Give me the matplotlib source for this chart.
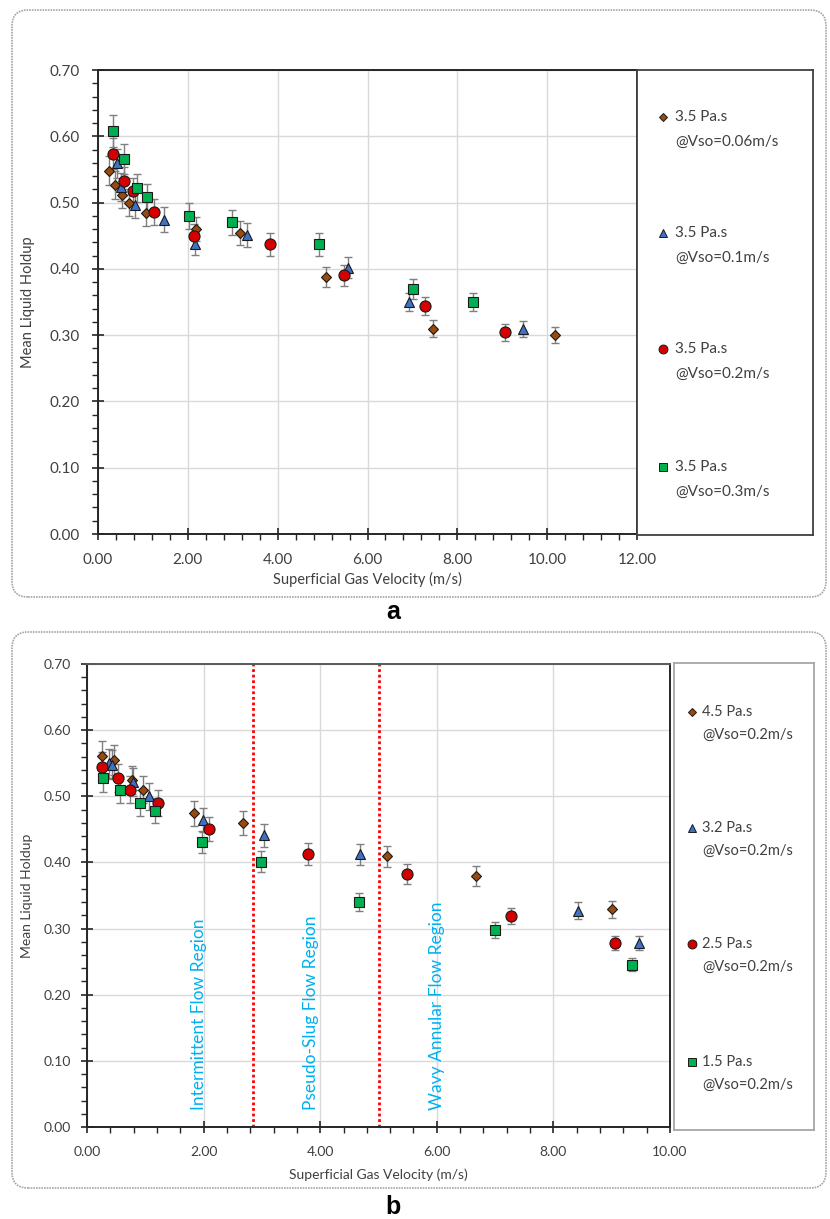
import matplotlib
matplotlib.use("Agg")
import matplotlib.pyplot as plt
from matplotlib.patches import FancyBboxPatch
from matplotlib.ticker import MultipleLocator, FormatStrFormatter

plt.rcParams['font.family'] = ['Lato', 'DejaVu Sans']

# Panel a: 3.5 Pa.s at different oil velocities
a_x_006 = [0.24, 0.38, 0.53, 0.69, 1.07, 2.19, 3.17, 5.08, 7.45, 10.18]
a_y_006 = [0.548, 0.527, 0.512, 0.500, 0.484, 0.460, 0.454, 0.388, 0.310, 0.300]
a_x_01 = [0.42, 0.51, 0.83, 1.46, 2.16, 3.32, 5.56, 6.93, 9.47]
a_y_01 = [0.559, 0.523, 0.497, 0.474, 0.438, 0.451, 0.402, 0.350, 0.309]
a_x_02 = [0.33, 0.57, 0.77, 1.25, 2.13, 3.82, 5.47, 7.28, 9.06]
a_y_02 = [0.574, 0.532, 0.517, 0.486, 0.449, 0.437, 0.390, 0.344, 0.304]
a_x_03 = [0.33, 0.57, 0.86, 1.08, 2.02, 2.98, 4.92, 7.01, 8.34]
a_y_03 = [0.608, 0.566, 0.522, 0.508, 0.480, 0.470, 0.437, 0.370, 0.350]
a_labels = [("3.5 Pa.s", "@Vso=0.06m/s"), ("3.5 Pa.s", "@Vso=0.1m/s"),
            ("3.5 Pa.s", "@Vso=0.2m/s"), ("3.5 Pa.s", "@Vso=0.3m/s")]

# Panel b: different viscosities at Vso=0.2m/s
b_x_45 = [0.26, 0.47, 0.78, 0.96, 1.83, 2.68, 5.15, 6.67, 9.01]
b_y_45 = [0.561, 0.555, 0.525, 0.510, 0.474, 0.460, 0.409, 0.379, 0.329]
b_x_32 = [0.37, 0.43, 0.79, 1.07, 1.99, 3.03, 4.69, 8.43, 9.46]
b_y_32 = [0.550, 0.548, 0.522, 0.500, 0.464, 0.441, 0.412, 0.327, 0.278]
b_x_25 = [0.26, 0.53, 0.74, 1.21, 2.10, 3.79, 5.49, 7.27, 9.05]
b_y_25 = [0.545, 0.528, 0.510, 0.490, 0.450, 0.413, 0.383, 0.319, 0.278]
b_x_15 = [0.27, 0.57, 0.91, 1.17, 1.98, 2.98, 4.67, 6.99, 9.35]
b_y_15 = [0.528, 0.510, 0.490, 0.478, 0.431, 0.401, 0.340, 0.298, 0.245]
b_labels = [("4.5 Pa.s", "@Vso=0.2m/s"), ("3.2 Pa.s", "@Vso=0.2m/s"),
            ("2.5 Pa.s", "@Vso=0.2m/s"), ("1.5 Pa.s", "@Vso=0.2m/s")]

# flow regime boundaries and labels
boundaries = [2.85, 5.0]
regions = ["Intermittent Flow Region", "Pseudo-Slug Flow Region", "Wavy Annular Flow Region"]
region_x = [1.92, 3.84, 6.0]

err_pct = 0.04  # percentage error bars

styles = [
    dict(marker='D', color='#9a4a0c', ms=5.5),
    dict(marker='^', color='#3f72c4', ms=7),
    dict(marker='o', color='#d40000', ms=8),
    dict(marker='s', color='#00b050', ms=7),
]

W, H = 830, 1219
fig = plt.figure(figsize=(W / 100, H / 100), dpi=100)


def ax_px(l, t, r, b):
    return fig.add_axes([l / W, 1 - b / H, (r - l) / W, (b - t) / H])


def frame_px(l, t, r, b):
    p = FancyBboxPatch((l / 100, (H - b) / 100), (r - l) / 100, (b - t) / 100,
                       boxstyle="round,pad=0,rounding_size=0.16",
                       transform=fig.dpi_scale_trans, fc='none',
                       ec='#a6a6a6', lw=1.2, ls=(0, (1, 0.6)))
    fig.add_artist(p)


def style_axes(ax, xmax, tick_fs, pad_x, pad_y):
    ax.set_xlim(0, xmax)
    ax.set_ylim(0, 0.7)
    ax.xaxis.set_major_locator(MultipleLocator(2))
    ax.xaxis.set_minor_locator(MultipleLocator(0.4))
    ax.yaxis.set_major_locator(MultipleLocator(0.1))
    ax.yaxis.set_minor_locator(MultipleLocator(0.02))
    ax.xaxis.set_major_formatter(FormatStrFormatter('%.2f'))
    ax.yaxis.set_major_formatter(FormatStrFormatter('%.2f'))
    ax.grid(True, which='major', color='#d9d9d9', lw=1)
    ax.set_axisbelow(True)
    ax.tick_params(which='major', direction='inout', length=9, width=1.2,
                   labelsize=tick_fs, labelcolor='#404040', color='#262626')
    ax.tick_params(axis='x', which='major', pad=pad_x)
    ax.tick_params(axis='y', which='major', pad=pad_y)
    ax.tick_params(which='minor', direction='out', length=4, width=1, color='#262626')
    for s in ax.spines.values():
        s.set_color('#262626')
        s.set_linewidth(1.4)


def draw_series(ax, xs, ys, st):
    yerr = [err_pct * v for v in ys]
    ax.errorbar(xs, ys, yerr=yerr, fmt='none', ecolor='#7f7f7f', elinewidth=1,
                capsize=3.2, capthick=1, zorder=3)
    ax.plot(xs, ys, ls='none', marker=st['marker'], ms=st['ms'],
            mfc=st['color'], mec='#1a1a1a', mew=0.8, zorder=4)


def draw_legend(l, t, r, b, labels, mx, tx, rows, gap, fs, ec):
    lg = ax_px(l, t, r, b)
    lg.set_xlim(0, r - l)
    lg.set_ylim(b - t, 0)
    lg.set_xticks([])
    lg.set_yticks([])
    for s in lg.spines.values():
        s.set_color(ec)
        s.set_linewidth(1.3)
    for st, (l1, l2), ry in zip(styles, labels, rows):
        lg.plot([mx], [ry], ls='none', marker=st['marker'], ms=st['ms'] * 0.8,
                mfc=st['color'], mec='#1a1a1a', mew=0.7)
        lg.text(tx, ry, l1, fontsize=fs, color='#404040', va='center', ha='left')
        lg.text(tx, ry + gap, l2, fontsize=fs, color='#404040', va='center', ha='left')
    return lg


# ---------------- panel a ----------------
frame_px(12, 10, 826, 597)
ax1 = ax_px(98, 70, 637, 534)
style_axes(ax1, 12, 11, 9, 9)
for xs, ys, st in zip([a_x_006, a_x_01, a_x_02, a_x_03],
                      [a_y_006, a_y_01, a_y_02, a_y_03], styles):
    draw_series(ax1, xs, ys, st)
ax1.set_xlabel("Superficial Gas Velocity (m/s)", fontsize=10.5, color='#404040', labelpad=4)
ax1.set_ylabel("Mean Liquid Holdup", fontsize=10.5, color='#404040', labelpad=10)
draw_legend(637, 70, 813, 535, a_labels, 26, 38, [47, 163, 279, 397], 25, 11, '#404040')
fig.text(393 / W, 1 - 612 / H, "a", fontsize=18, fontweight='bold',
         family='Liberation Sans', ha='center', va='center')

# ---------------- panel b ----------------
frame_px(12, 632, 826, 1188)
ax2 = ax_px(87, 664, 670, 1127)
style_axes(ax2, 10, 10, 9, 7)
ax2.spines['top'].set_color('#595959')
for xs, ys, st in zip([b_x_45, b_x_32, b_x_25, b_x_15],
                      [b_y_45, b_y_32, b_y_25, b_y_15], styles):
    draw_series(ax2, xs, ys, st)
for bx in boundaries:
    ax2.axvline(bx, color='#ff0000', ls=(0, (1, 1)), lw=2, zorder=2)
for rx, rt in zip(region_x, regions):
    ax2.text(rx, 0.025, rt, rotation=90, ha='center', va='bottom',
             fontsize=12.5, color='#00b0f0', zorder=5)
ax2.set_xlabel("Superficial Gas Velocity (m/s)", fontsize=10, color='#404040', labelpad=8)
ax2.set_ylabel("Mean Liquid Holdup", fontsize=10, color='#404040', labelpad=8)
draw_legend(674, 663, 814, 1130, b_labels, 18, 28, [49, 165, 281, 399], 23, 10.5, '#a6a6a6')
fig.text(393 / W, 1 - 1207 / H, "b", fontsize=18, fontweight='bold',
         family='Liberation Sans', ha='center', va='center')

fig.savefig("out.png", dpi=100)
